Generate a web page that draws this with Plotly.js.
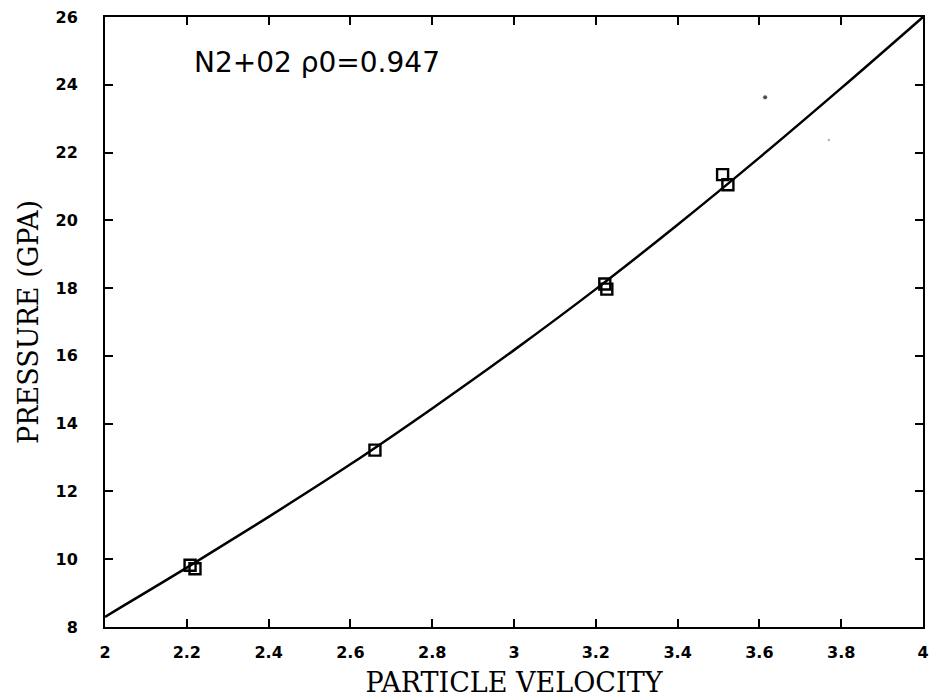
<!DOCTYPE html>
<html>
<head>
<meta charset="utf-8">
<script src="https://cdn.plot.ly/plotly-3.0.1.min.js"></script>
<style>html,body{margin:0;padding:0;background:#fff;}#chart{width:931px;height:698px;}</style>
</head>
<body>
<div id="chart"></div>
<script>
// Fitted curve
const curveX = [2.0, 2.2, 2.4, 2.6, 2.8, 3.0, 3.2, 3.4, 3.6, 3.8, 4.0];
const curveY = [8.3, 9.75, 11.25, 12.8, 14.45, 16.17, 17.97, 19.87, 21.85, 23.9, 26.0];
// Measured points (open squares)
const pointX = [2.208, 2.22, 2.66, 3.222, 3.227, 3.51, 3.523];
const pointY = [9.82, 9.72, 13.22, 18.12, 17.97, 21.35, 21.05];
// Stray specks on the scan
const speckX = [3.614, 3.77];
const speckY = [23.63, 22.37];
// Ticks
const xTicks = [2, 2.2, 2.4, 2.6, 2.8, 3, 3.2, 3.4, 3.6, 3.8, 4];
const xTickText = ['2', '2.2', '2.4', '2.6', '2.8', '3', '3.2', '3.4', '3.6', '3.8', '4'];
const yTicks = [8, 10, 12, 14, 16, 18, 20, 22, 24, 26];
const yTickText = ['8', '10', '12', '14', '16', '18', '20', '22', '24', '26'];
const labelText = 'N2+02 \u03C10=0.947';

const traces = [
  {x: curveX, y: curveY, mode: 'lines', line: {color: '#000', width: 2.5, shape: 'spline', smoothing: 1}, hoverinfo: 'skip'},
  {x: pointX, y: pointY, mode: 'markers', marker: {symbol: 'square-open', size: 11, color: '#000', line: {width: 2.4, color: '#000'}}},
  {x: speckX, y: speckY, mode: 'markers', marker: {symbol: 'circle', size: [5, 2.5], color: '#000'}}
];

const tickFont = {family: 'DejaVu Sans', size: 16, color: '#000', weight: 'bold'};
const layout = {
  width: 931, height: 698,
  margin: {l: 105, r: 8, t: 17, b: 71},
  paper_bgcolor: '#fff', plot_bgcolor: '#fff',
  showlegend: false,
  xaxis: {
    range: [2, 4], tickvals: xTicks, ticktext: xTickText,
    ticks: 'inside', ticklen: 8, tickwidth: 2, tickcolor: '#000',
    showline: true, linewidth: 2, linecolor: '#000', mirror: 'ticks',
    showgrid: false, zeroline: false, tickfont: tickFont, ticklabelstandoff: 10,
    title: {text: 'PARTICLE VELOCITY', font: {family: 'DejaVu Serif', size: 27, color: '#000'}, standoff: 13}
  },
  yaxis: {
    range: [8, 26], tickvals: yTicks, ticktext: yTickText,
    ticks: 'inside', ticklen: 8, tickwidth: 2, tickcolor: '#000',
    showline: true, linewidth: 2, linecolor: '#000', mirror: 'ticks',
    showgrid: false, zeroline: false, tickfont: tickFont, ticklabelstandoff: 22,
    title: {text: 'PRESSURE (GPA)', font: {family: 'DejaVu Serif', size: 27, color: '#000'}, standoff: 9}
  },
  annotations: [{
    x: 2.212, y: 24.65, xref: 'x', yref: 'y', xanchor: 'left', yanchor: 'middle',
    text: labelText, showarrow: false,
    font: {family: 'DejaVu Sans', size: 28, color: '#000'}
  }]
};

Plotly.newPlot('chart', traces, layout, {displayModeBar: false, staticPlot: true});
</script>
</body>
</html>
